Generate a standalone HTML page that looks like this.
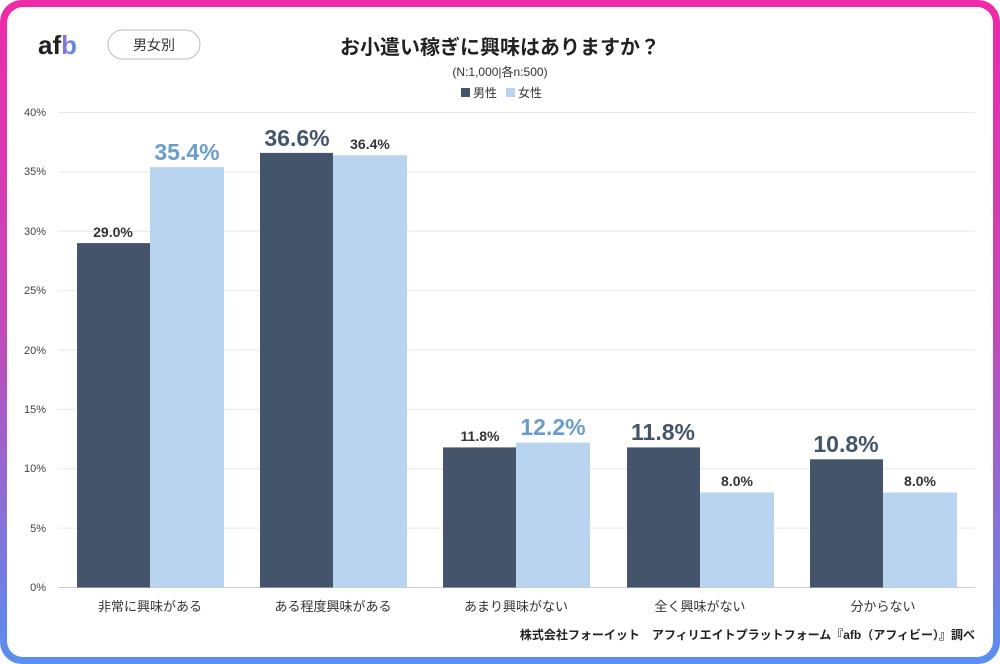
<!DOCTYPE html><html><head><meta charset="utf-8"><style>
body{margin:0;width:1000px;height:664px;overflow:hidden;font-family:"Liberation Sans","Noto Sans CJK JP",sans-serif}
.outer{position:absolute;left:0;top:0;width:1000px;height:664px;border-radius:22px;background:linear-gradient(180deg,#ee2aa8 0%,#c04ab8 50%,#5a8ff0 100%)}
.inner{position:absolute;left:7px;top:7px;width:986px;height:650px;border-radius:16px;background:#fff}
</style></head><body>
<div class="outer"></div><div class="inner"></div>
<svg width="1000" height="664" style="position:absolute;left:0;top:0" font-family="Liberation Sans, Noto Sans CJK JP, sans-serif">
<defs><linearGradient id="lg" x1="0" x2="1"><stop offset="0" stop-color="#e040a0"/><stop offset="1" stop-color="#5a8ff0"/></linearGradient></defs>
<text x="38" y="54" font-size="26" font-weight="bold" fill="#222">af<tspan fill="url(#lg)">b</tspan></text>
<rect x="108" y="30" width="92" height="29" rx="14.5" fill="#fff" stroke="#bbb"/>
<text x="154" y="50" font-size="14" text-anchor="middle" fill="#333">男女別</text>
<text x="500" y="54" font-size="20" font-weight="bold" text-anchor="middle" fill="#222">お小遣い稼ぎに興味はありますか？</text>
<text x="500" y="76" font-size="12" text-anchor="middle" fill="#333">(N:1,000|各n:500)</text>
<rect x="461" y="88" width="9" height="9" fill="#44546a"/><text x="473" y="97" font-size="12" fill="#333">男性</text>
<rect x="506" y="88" width="9" height="9" fill="#b8d4ee"/><text x="518" y="97" font-size="12" fill="#333">女性</text>
<g stroke="#e8e8e8" stroke-width="1">
<line x1="58" x2="975" y1="112.5" y2="112.5"/><line x1="58" x2="975" y1="171.9" y2="171.9"/><line x1="58" x2="975" y1="231.3" y2="231.3"/><line x1="58" x2="975" y1="290.6" y2="290.6"/><line x1="58" x2="975" y1="350" y2="350"/><line x1="58" x2="975" y1="409.4" y2="409.4"/><line x1="58" x2="975" y1="468.8" y2="468.8"/><line x1="58" x2="975" y1="528.1" y2="528.1"/>
</g>
<line x1="58" x2="975" y1="587.5" y2="587.5" stroke="#ccc"/>
<g font-size="11" fill="#444" text-anchor="end">
<text x="46" y="116">40%</text><text x="46" y="175">35%</text><text x="46" y="235">30%</text><text x="46" y="294">25%</text><text x="46" y="354">20%</text><text x="46" y="413">15%</text><text x="46" y="472">10%</text><text x="46" y="532">5%</text><text x="46" y="591">0%</text>
</g>
<g fill="#44546a">
<rect x="77" y="243.1" width="73" height="344.4"/>
<rect x="260" y="152.9" width="73" height="434.6"/>
<rect x="443" y="447.4" width="73" height="140.1"/>
<rect x="627" y="447.4" width="73" height="140.1"/>
<rect x="810" y="459.3" width="73" height="128.2"/>
</g>
<g fill="#b8d4ee">
<rect x="150" y="167.1" width="74" height="420.4"/>
<rect x="333" y="155.3" width="74" height="432.2"/>
<rect x="516" y="442.6" width="74" height="144.9"/>
<rect x="700" y="492.5" width="74" height="95"/>
<rect x="883" y="492.5" width="74" height="95"/>
</g>
<g font-weight="bold" text-anchor="middle">
<text x="113" y="237" font-size="14" fill="#333">29.0%</text>
<text x="187" y="160" font-size="23" fill="#6a9dcc">35.4%</text>
<text x="297" y="146" font-size="23" fill="#44546a">36.6%</text>
<text x="370" y="149" font-size="14" fill="#333">36.4%</text>
<text x="480" y="441" font-size="14" fill="#333">11.8%</text>
<text x="553" y="435" font-size="23" fill="#6a9dcc">12.2%</text>
<text x="663" y="440" font-size="23" fill="#44546a">11.8%</text>
<text x="737" y="486" font-size="14" fill="#333">8.0%</text>
<text x="846" y="452" font-size="23" fill="#44546a">10.8%</text>
<text x="920" y="486" font-size="14" fill="#333">8.0%</text>
</g>
<g font-size="13" fill="#333" text-anchor="middle">
<text x="150" y="611">非常に興味がある</text><text x="333" y="611">ある程度興味がある</text><text x="516" y="611">あまり興味がない</text><text x="700" y="611">全く興味がない</text><text x="883" y="611">分からない</text>
</g>
<text x="975" y="639" font-size="12" font-weight="bold" text-anchor="end" fill="#222">株式会社フォーイット　アフィリエイトプラットフォーム『afb（アフィビー）』調べ</text>
</svg>
</body></html>
